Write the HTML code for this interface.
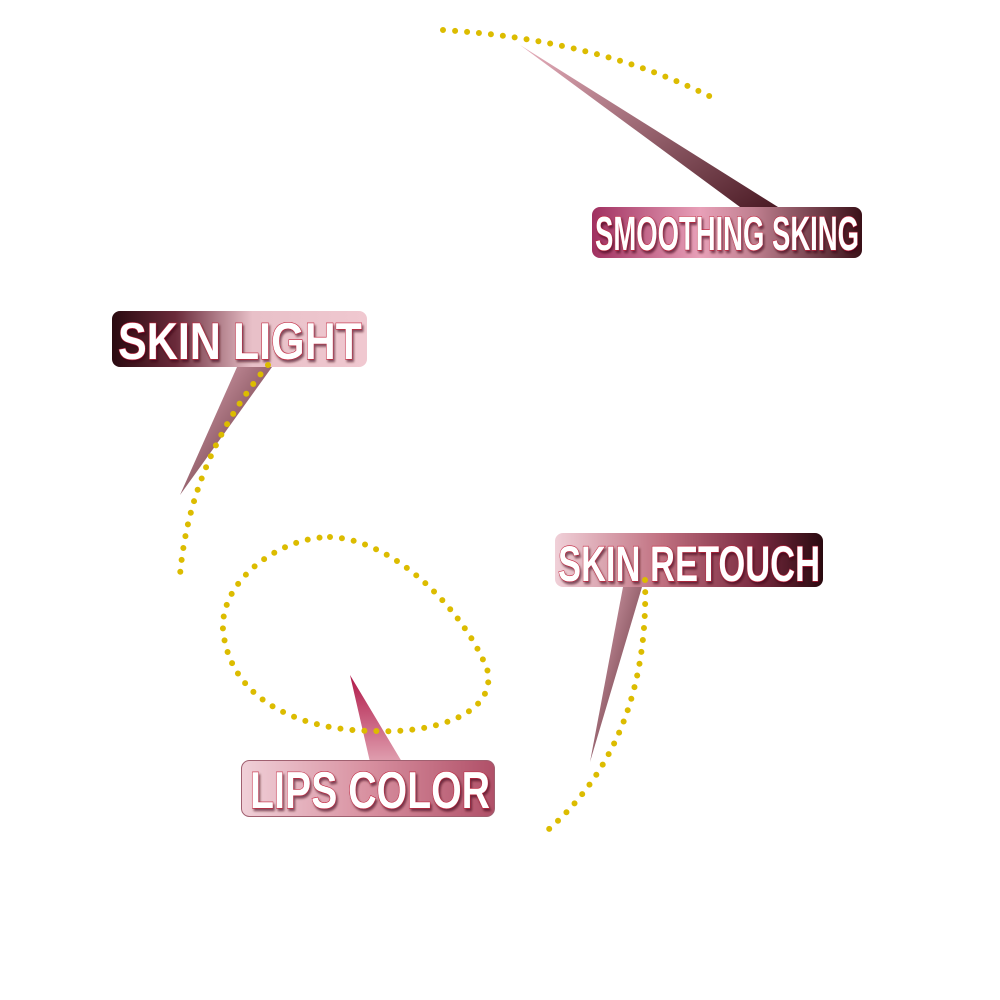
<!DOCTYPE html>
<html><head><style>
body{margin:0;width:1000px;height:1000px;background:#fff;overflow:hidden;position:relative;font-family:"Liberation Sans",sans-serif}
svg{position:absolute;left:0;top:0}
text{font-family:"Liberation Sans",sans-serif;font-weight:bold;fill:#fff;stroke:#c0203a;stroke-width:1.2px;paint-order:stroke}
</style></head><body>
<svg width="1000" height="1000">
<defs>
<linearGradient id="g1" x1="0" y1="0" x2="1" y2="1"><stop offset="0" stop-color="#e8b0bd"/><stop offset="1" stop-color="#4a1a24"/></linearGradient>
<linearGradient id="g2" x1="0" y1="0" x2="0" y2="1"><stop offset="0" stop-color="#b01848"/><stop offset="1" stop-color="#e0a0b0"/></linearGradient>
<linearGradient id="b1" x1="0" x2="1"><stop offset="0" stop-color="#a03060"/><stop offset=".4" stop-color="#e8a0b8"/><stop offset=".6" stop-color="#c08090"/><stop offset="1" stop-color="#3a1018"/></linearGradient>
<linearGradient id="b2" x1="0" x2="1"><stop offset="0" stop-color="#2a0a10"/><stop offset=".25" stop-color="#6a2a3a"/><stop offset=".55" stop-color="#e8c0c8"/><stop offset="1" stop-color="#f0c8d0"/></linearGradient>
<linearGradient id="b3" x1="0" x2="1"><stop offset="0" stop-color="#f0d0d8"/><stop offset=".4" stop-color="#c07080"/><stop offset=".75" stop-color="#7a2a40"/><stop offset="1" stop-color="#2a0a10"/></linearGradient>
<linearGradient id="b4" x1="0" x2="1"><stop offset="0" stop-color="#f0d0d8"/><stop offset=".5" stop-color="#d890a0"/><stop offset="1" stop-color="#b05068"/></linearGradient>
<filter id="sh"><feDropShadow dx="1.5" dy="2.5" stdDeviation="1" flood-color="#3c0014" flood-opacity=".6"/></filter>
</defs>
<polygon points="520,45 740,207 778,207" fill="url(#g1)"/>
<polygon points="237,367 272,367 180,495" fill="url(#g1)"/>
<polygon points="623,587 642,587 590,762" fill="url(#g1)"/>
<polygon points="350,675 370,762 402,762" fill="url(#g2)"/>
<rect x="592" y="207" width="270" height="51" rx="8" fill="url(#b1)"/>
<rect x="112" y="311" width="255" height="56" rx="8" fill="url(#b2)"/>
<rect x="555" y="533" width="268" height="54" rx="8" fill="url(#b3)"/>
<rect x="241.5" y="760.5" width="253" height="56" rx="8" fill="url(#b4)" stroke="#a06070"/>
<g filter="url(#sh)">
<text x="595" y="250" font-size="48" textLength="264" lengthAdjust="spacingAndGlyphs">SMOOTHING SKING</text>
<text x="118" y="359" font-size="52" textLength="244" lengthAdjust="spacingAndGlyphs">SKIN LIGHT</text>
<text x="558" y="581" font-size="50" textLength="262" lengthAdjust="spacingAndGlyphs">SKIN RETOUCH</text>
<text x="250" y="808" font-size="52" textLength="240" lengthAdjust="spacingAndGlyphs">LIPS COLOR</text>
</g>
<g fill="none" stroke="#dcbc00" stroke-width="6" stroke-linecap="round" stroke-dasharray="0 12">
<path d="M443,30 Q600,40 715,99"/>
<path d="M268,365 Q190,460 180,575"/>
<path d="M330,537 C400,540 470,620 488,672 C495,720 420,733 380,731 C300,732 230,700 223,630 C220,580 280,537 330,537 Z"/>
<path d="M645,580 Q650,740 548,830"/>
</g>
</svg>
</body></html>
